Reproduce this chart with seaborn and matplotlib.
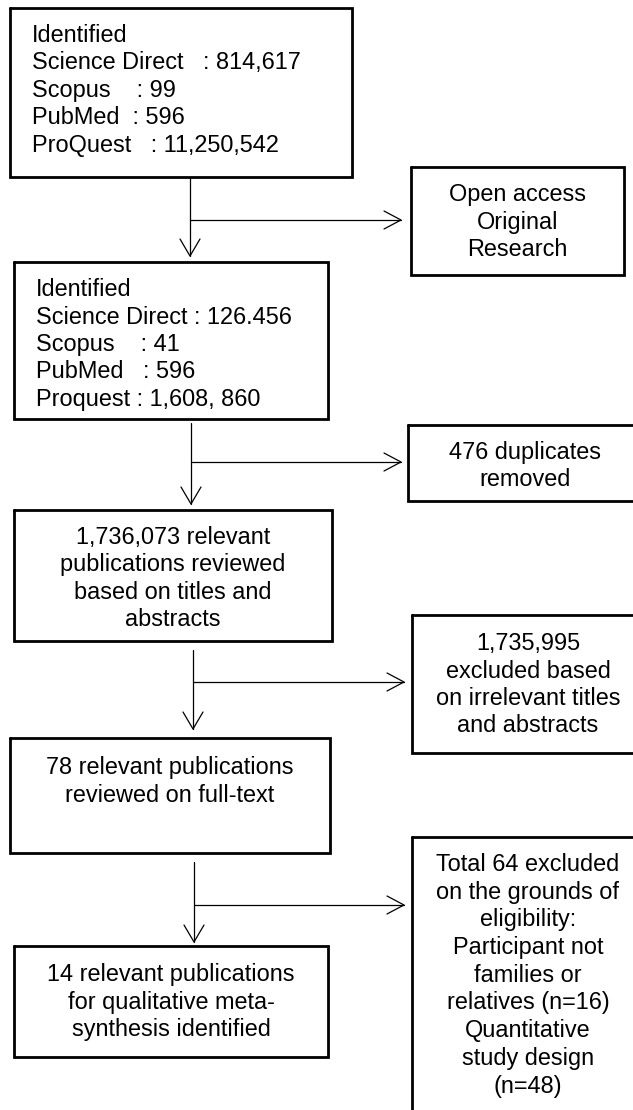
import matplotlib
matplotlib.use("Agg")
import matplotlib.pyplot as plt
import seaborn as sns

# Flowchart content (text of each box)
main_texts = [
    ["Identified", "Science Direct   : 814,617", "Scopus    : 99",
     "PubMed  : 596", "ProQuest   : 11,250,542"],
    ["Identified", "Science Direct : 126.456", "Scopus    : 41",
     "PubMed   : 596", "Proquest : 1,608, 860"],
    ["1,736,073 relevant", "publications reviewed", "based on titles and", "abstracts"],
    ["78 relevant publications", "reviewed on full-text"],
    ["14 relevant publications", "for qualitative meta-", "synthesis identified"],
]
side_texts = [
    ["Open access", "Original", "Research"],
    ["476 duplicates", "removed"],
    ["1,735,995", "excluded based", "on irrelevant titles", "and abstracts"],
    ["Total 64 excluded", "on the grounds of", "eligibility:", "Participant not",
     "families or", "relatives (n=16)", "Quantitative", "study design", "(n=48)"],
]

# Layout in pixel units: (left, top, right, bottom), first baseline, alignment
main_boxes = [(10, 8, 352, 177), (14, 262, 328, 419), (14, 510, 332, 641),
              (10, 738, 330, 853), (14, 946, 328, 1057)]
main_base = [42, 296, 544, 774, 981]
main_align = ["left", "left", "center", "center", "center"]
side_boxes = [(411, 167, 624, 275), (408, 425, 642, 501),
              (412, 615, 644, 753), (412, 837, 644, 1112)]
side_base = [201, 459, 650, 871]
# connectors: x of trunk, start y, tip y, branch y, branch tip x
links = [(190, 178, 256, 220, 401), (191, 423, 504, 462, 401),
         (193, 650, 729, 682, 404), (194, 862, 942, 905, 404)]

sns.set_theme(style="white")
plt.rcParams["font.family"] = ["Liberation Sans", "DejaVu Sans"]

fig = plt.figure(figsize=(6.33, 11.10), dpi=100)
ax = fig.add_axes([0, 0, 1, 1])
ax.set_xlim(0, 633)
ax.set_ylim(1110, 0)
ax.axis("off")

FS = 16.9
STEP = 27.5


def draw_box(box, lines, base, align, step=STEP):
    l, t, r, b = box
    ax.plot([l, r, r, l, l], [t, t, b, b, t], color="black", lw=2.0,
            solid_joinstyle="miter", clip_on=False)
    x = l + 22 if align == "left" else (l + r) / 2
    for i, s in enumerate(lines):
        ax.text(x, base + i * step, s, ha=align, va="baseline",
                fontsize=FS, color="black")


def arrow_down(x, y0, y1):
    ax.plot([x, x], [y0, y1], color="black", lw=0.9)
    ax.plot([x - 10, x, x + 10], [y1 - 17, y1, y1 - 17], color="black", lw=0.9)


def arrow_right(x0, x1, y):
    ax.plot([x0, x1], [y, y], color="black", lw=0.9)
    ax.plot([x1 - 17, x1, x1 - 17], [y - 9, y, y + 9], color="black", lw=0.9)


for box, lines, base, align in zip(main_boxes, main_texts, main_base, main_align):
    draw_box(box, lines, base, align)

for i, (box, lines, base) in enumerate(zip(side_boxes, side_texts, side_base)):
    draw_box(box, lines, base, "center", step=27.7 if i == 3 else STEP)

for x, y0, y1, yb, xt in links:
    arrow_down(x, y0, y1)
    arrow_right(x, xt, yb)

fig.savefig("out.png", dpi=100)
